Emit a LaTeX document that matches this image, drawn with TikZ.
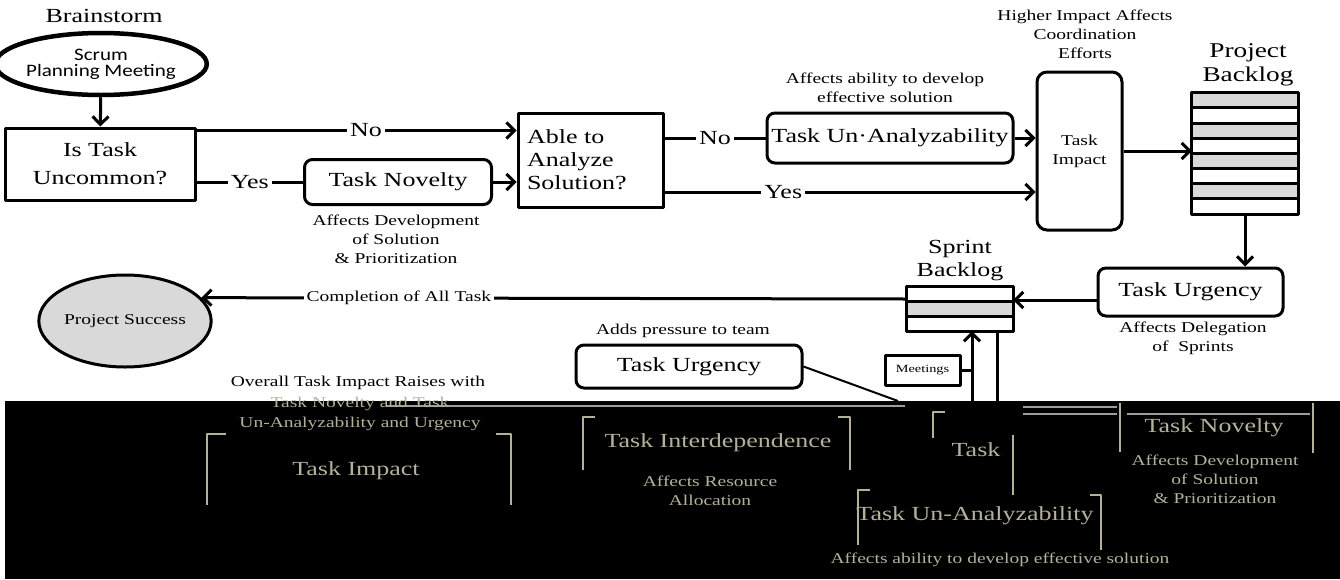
\documentclass[tikz,border=0pt]{standalone}
\usepackage{fontspec}
\usetikzlibrary{arrows.meta,shapes.geometric}

\newfontfamily\wideserif[FakeStretch=1.3]{Liberation Serif}
\newfontfamily\widesans[FakeStretch=1.2]{Carlito}
\newcommand{\bigtxt}{\wideserif\fontsize{20}{23}\selectfont}
\newcommand{\midtxt}{\wideserif\fontsize{15}{19}\selectfont}
\newcommand{\smalltxt}{\wideserif\fontsize{11}{13}\selectfont}

\definecolor{backloggray}{HTML}{D9D9D9}
\definecolor{ghosttext}{HTML}{B5B09A}
\definecolor{ghostline}{HTML}{9C9C9C}

\tikzset{
  flowbox/.style={draw, line width=3pt, font=\bigtxt, align=center, inner sep=2pt},
  roundbox/.style={flowbox, rounded corners=8pt},
  link/.style={line width=3pt},
  arrowlink/.style={link, -{Straight Barb[length=8pt,width=16pt]}},
  lbl/.style={fill=white, font=\bigtxt, inner sep=3pt},
  note/.style={font=\midtxt, align=center, inner sep=0pt},
  ghost/.style={text=ghosttext, align=center, inner sep=0pt},
  ghostside/.style={draw=ghosttext, line width=2pt},
}

\begin{document}
\begin{tikzpicture}[x=1pt,y=-1pt,line join=round]
  % Frame of the artwork, in pixels of the original.
  \useasboundingbox (0,0) rectangle (1340,579);

  % Damaged lower band of the original scan.
  \fill[black] (5,401) rectangle (1340,579);
  \draw[ghostline, line width=1.5pt] (387,406) -- (905,406);
  \draw[ghostline, line width=1.5pt] (1023,407) -- (1117,407) (1023,414) -- (1117,414);
  \draw[ghostline, line width=1.5pt] (1127,414) -- (1310,414);

  \node[note] (overallA) at (358,383) {Overall Task Impact Raises with};
  \node[ghost, font=\midtxt] (overallB) at (360,404) {Task Novelty and Task};
  \node[ghost, font=\midtxt] (overallC) at (360,424) {Un-Analyzability and Urgency};
  \draw[ghostside] (226,434) -- (207,434) -- (207,505);
  \draw[ghostside] (496,434) -- (511,434) -- (511,505);
  \node[ghost, font=\bigtxt] (impactG) at (356,471) {Task Impact};

  \draw[ghostside] (595,417) -- (583,417) -- (583,470);
  \draw[ghostside] (838,417) -- (850,417) -- (850,470);
  \node[ghost, font=\bigtxt] (interG) at (718,443) {Task Interdependence};
  \node[ghost, font=\midtxt] (interNote) at (710,491) {Affects Resource\\Allocation};

  \draw[ghostside] (945,412) -- (933,412) -- (933,438);
  \draw[ghostside] (1013,435) -- (1013,495);
  \node[ghost, font=\bigtxt] (taskG) at (976,450) {Task};

  \draw[ghostside] (870,490) -- (858,490) -- (858,545);
  \draw[ghostside] (1090,495) -- (1101,495) -- (1101,550);
  \node[ghost, font=\bigtxt] (unanG) at (975,516) {Task Un-Analyzability};
  \node[ghost, font=\midtxt] (unanNote) at (1000,560) {Affects ability to develop effective solution};

  \draw[ghostside] (1120,403) -- (1120,452);
  \draw[ghostside] (1313,403) -- (1313,453);
  \node[ghost, font=\bigtxt] (noveltyG) at (1214,428) {Task Novelty};
  \node[ghost, font=\midtxt] (noveltyNote) at (1215,479) {Affects Development\\of Solution\\\& Prioritization};

  % Start of the process.
  \node[font=\bigtxt] (brainstorm) at (104,16) {Brainstorm};
  \node[draw, ellipse, line width=4.5pt, minimum width=172pt, minimum height=62pt,
        inner sep=0pt, align=center, font={\widesans\fontsize{17.5}{16}\selectfont}]
        (scrum) at (101,64) {Scrum\\Planning Meeting};
  \node[flowbox, minimum width=190pt, minimum height=72pt,
        font={\wideserif\fontsize{20}{28}\selectfont}] (uncommon) at (100,164) {Is Task\\Uncommon?};
  \draw[arrowlink] (scrum) -- (uncommon);

  % Novelty branch and the analysis question.
  \node[roundbox, minimum width=187pt, minimum height=45pt] (novelty) at (398,182) {Task Novelty};
  \node[note] (noveltyNote) at (396,239) {Affects Development\\of Solution\\\& Prioritization};
  \node[flowbox, minimum width=145pt, minimum height=94pt, text width=127pt,
        inner xsep=9pt, align=left] (able) at (590.5,160) {Able to\\Analyze\\Solution?};

  \draw[arrowlink] ([yshift=-4pt]uncommon.north east) coordinate (noA)
    -- node[lbl, pos=0.53] {No} (noA -| able.west);
  \draw[link] (uncommon.east |- novelty.west) -- node[lbl] {Yes} (novelty.west);
  \draw[arrowlink] (novelty.east) -- (novelty.east -| able.west);

  % Analyzability and impact.
  \node[roundbox, minimum width=246pt, minimum height=50pt] (unanalyz) at (890,138) {Task Un·Analyzability};
  \node[note] (unanalyzNote) at (885,88) {Affects ability to develop\\effective solution};
  \node[roundbox, rounded corners=10pt, minimum width=85pt, minimum height=158pt,
        font=\midtxt] (impact) at (1079.5,151) {Task\\Impact};
  \node[note] (impactNote) at (1085,34) {Higher Impact Affects\\Coordination\\Efforts};

  \draw[link] (able.east |- unanalyz.west) -- node[lbl] {No} (unanalyz.west);
  \draw[arrowlink] (unanalyz.east) -- (unanalyz.east -| impact.west);
  \draw[arrowlink] ([yshift=-32pt]able.east) coordinate (yesB)
    -- node[lbl, pos=0.32] {Yes} (yesB -| impact.west);

  % Project backlog, eight rows.
  \node[align=center, font={\wideserif\fontsize{21}{24}\selectfont}] (pblTitle) at (1248,65) {Project\\Backlog};
  \node[minimum width=106pt, minimum height=121pt, inner sep=0pt] (pbl) at (1245,153.5) {};
  \foreach \i in {0,2,4,6} {
    \fill[backloggray] ([yshift={-\i*15.125pt}]pbl.north west) rectangle ([yshift={-(\i+1)*15.125pt}]pbl.north east);
  }
  \foreach \i in {1,...,7} {
    \draw[line width=3pt] ([yshift={-\i*15.125pt}]pbl.north west) -- ([yshift={-\i*15.125pt}]pbl.north east);
  }
  \draw[line width=3pt] (pbl.north west) rectangle (pbl.south east);
  \draw[arrowlink] (impact.east) -- (impact.east -| pbl.west);

  % Urgency and the sprint backlog.
  \node[roundbox, minimum width=185pt, minimum height=48pt] (urgR) at (1190.5,292) {Task Urgency};
  \node[note] (urgRNote) at (1193,338) {Affects Delegation\\of~~Sprints};
  \draw[arrowlink] (pbl.south) -- (pbl.south |- urgR.north);

  \node[align=center, font=\bigtxt] (sblTitle) at (960,261) {Sprint\\Backlog};
  \node[minimum width=106pt, minimum height=44pt, inner sep=0pt] (sbl) at (960,309) {};
  \fill[backloggray] ([yshift={-14.667pt}]sbl.north west) rectangle ([yshift={-29.333pt}]sbl.north east);
  \foreach \i in {1,2} {
    \draw[line width=3pt] ([yshift={-\i*14.667pt}]sbl.north west) -- ([yshift={-\i*14.667pt}]sbl.north east);
  }
  \draw[line width=3pt] (sbl.north west) rectangle (sbl.south east);
  \draw[arrowlink] ([yshift=-8pt]urgR.west) coordinate (urgOut) -- (urgOut -| sbl.east);

  % Finish.
  \node[draw, ellipse, fill=backloggray, line width=3pt, minimum width=166pt, minimum height=92pt,
        inner sep=0pt, font=\midtxt] (success) at (125,321) {Project Success};
  \draw[arrowlink] ([yshift=10pt]sbl.west) -- node[lbl, font=\midtxt, pos=0.72] {Completion of All Task} (success.17);

  % Pressure and meetings feeding the sprint.
  \node[note] (pressNote) at (683,331) {Adds pressure to team};
  \node[roundbox, minimum width=226pt, minimum height=43pt] (urgL) at (689,366.5) {Task Urgency};
  \coordinate (pressEnd) at (898,401);
  \draw[line width=2pt] (urgL.east) -- (pressEnd);

  \node[draw, line width=3pt, minimum width=75pt, minimum height=30pt, inner sep=1pt,
        font=\smalltxt] (meet) at (922.5,370) {Meetings};
  \coordinate (meetLine) at (972,401);
  \coordinate (taskLine) at (997,401);
  \draw[arrowlink] (meetLine) -- (meetLine |- sbl.south);
  \draw[link] (meet.east) -- (meet.east -| meetLine);
  \draw[link] (taskLine) -- (taskLine |- sbl.south);
\end{tikzpicture}
\end{document}
